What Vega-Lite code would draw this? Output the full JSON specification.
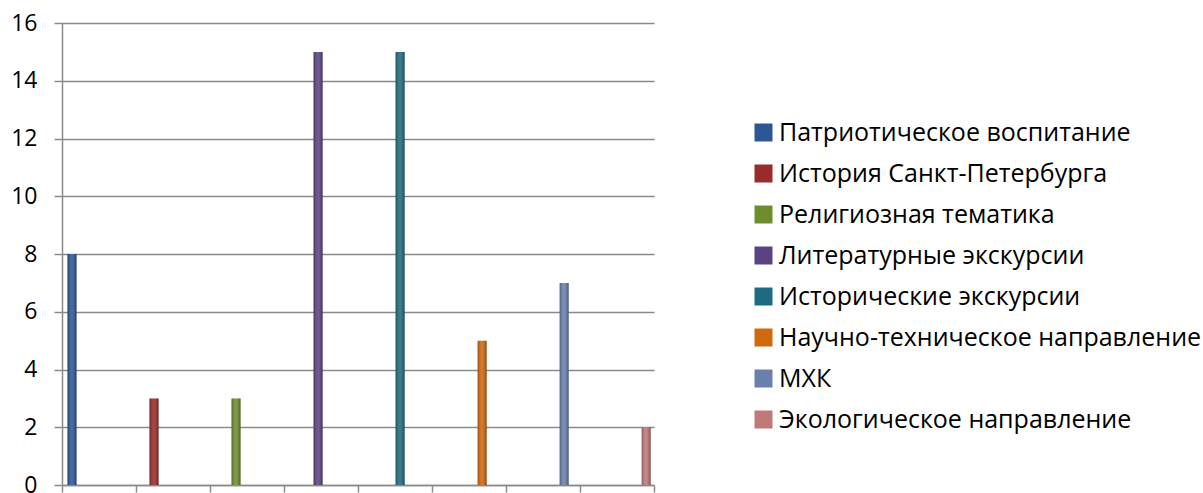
{
  "$schema": "https://vega.github.io/schema/vega-lite/v6.json",
  "autosize": {"type": "none"},
  "padding": {"left": 62, "top": 23, "right": 549, "bottom": 8},
  "width": 592,
  "height": 462,
  "background": "white",
  "config": {
    "view": {"stroke": null},
    "font": "Open Sans"
  },
  "data": {
    "values": [
      {"cat": "1", "series": "Патриотическое воспитание", "value": 8},
      {"cat": "2", "series": "История Санкт-Петербурга", "value": 3},
      {"cat": "3", "series": "Религиозная тематика", "value": 3},
      {"cat": "4", "series": "Литературные экскурсии", "value": 15},
      {"cat": "5", "series": "Исторические экскурсии", "value": 15},
      {"cat": "6", "series": "Научно-техническое направление", "value": 5},
      {"cat": "7", "series": "МХК", "value": 7},
      {"cat": "8", "series": "Экологическое направление", "value": 2}
    ]
  },
  "layer": [
    {
      "mark": {"type": "bar", "width": 9},
      "encoding": {
        "x": {
          "field": "cat", "type": "nominal",
          "scale": {"paddingInner": 0, "paddingOuter": 0},
          "axis": {
            "title": null, "labels": false, "tickBand": "extent",
            "domainColor": "#8a8a8a", "domainWidth": 1.5,
            "tickColor": "#8a8a8a", "tickWidth": 1.5, "tickSize": 7, "grid": false
          }
        },
        "xOffset": {
          "field": "series", "type": "nominal",
          "sort": ["Патриотическое воспитание", "История Санкт-Петербурга", "Религиозная тематика", "Литературные экскурсии", "Исторические экскурсии", "Научно-техническое направление", "МХК", "Экологическое направление"],
          "scale": {"paddingInner": 0, "paddingOuter": 0.61, "align": 0.61}
        },
        "y": {
          "field": "value", "type": "quantitative",
          "scale": {"domain": [0, 16], "nice": false},
          "axis": {
            "title": null, "values": [0, 2, 4, 6, 8, 10, 12, 14, 16],
            "grid": true, "gridColor": "#8a8a8a", "gridWidth": 1.5,
            "domainColor": "#8a8a8a", "domainWidth": 1.5,
            "tickColor": "#8a8a8a", "tickWidth": 1.5, "tickSize": 8,
            "labelFontSize": 23, "labelColor": "#000000", "labelPadding": 17,
            "labelFont": "Open Sans"
          }
        },
        "color": {
          "field": "series", "type": "nominal",
          "sort": ["Патриотическое воспитание", "История Санкт-Петербурга", "Религиозная тематика", "Литературные экскурсии", "Исторические экскурсии", "Научно-техническое направление", "МХК", "Экологическое направление"],
          "scale": {
            "domain": ["Патриотическое воспитание", "История Санкт-Петербурга", "Религиозная тематика", "Литературные экскурсии", "Исторические экскурсии", "Научно-техническое направление", "МХК", "Экологическое направление"],
            "range": ["#2b5797", "#9a2b2b", "#6e8e2e", "#5b4380", "#1e6a80", "#d0680e", "#6a80ac", "#c07878"]
          },
          "legend": {
            "title": null, "orient": "none", "legendX": 689, "legendY": 97,
            "symbolType": "square", "symbolSize": 324, "symbolStrokeWidth": 0,
            "labelFontSize": 25, "labelColor": "#000000", "labelFont": "Open Sans",
            "labelOffset": 3, "rowPadding": 15, "labelLimit": 600
          }
        }
      }
    },
    {
      "mark": {
        "type": "bar", "width": 9,
        "fill": {
          "gradient": "linear", "x1": 0, "x2": 1, "y1": 0, "y2": 0,
          "stops": [
            {"offset": 0, "color": "rgba(0,0,0,0.25)"},
            {"offset": 0.45, "color": "rgba(255,255,255,0.12)"},
            {"offset": 1, "color": "rgba(0,0,0,0.35)"}
          ]
        }
      },
      "encoding": {
        "x": {"field": "cat", "type": "nominal"},
        "xOffset": {
          "field": "series", "type": "nominal",
          "sort": ["Патриотическое воспитание", "История Санкт-Петербурга", "Религиозная тематика", "Литературные экскурсии", "Исторические экскурсии", "Научно-техническое направление", "МХК", "Экологическое направление"]
        },
        "y": {"field": "value", "type": "quantitative"}
      }
    }
  ]
}
